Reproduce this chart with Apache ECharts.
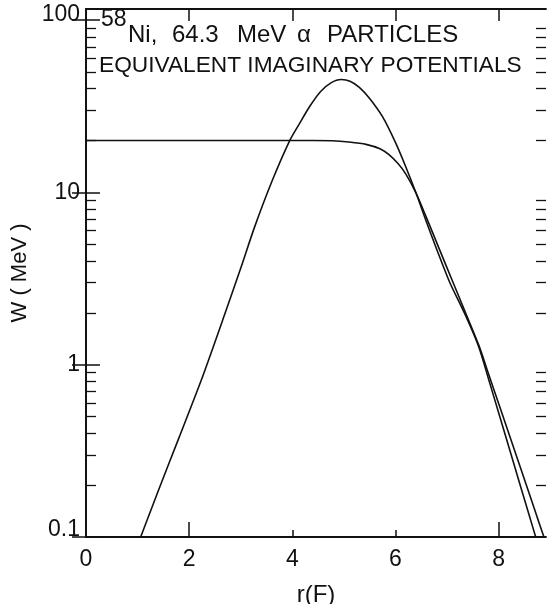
<!DOCTYPE html>
<html>
<head>
<meta charset="utf-8">
<script src="https://cdn.jsdelivr.net/npm/echarts@6/dist/echarts.min.js"></script>
<style>
html,body{margin:0;padding:0;background:#fff;}
#chart{width:547px;height:604px;}
</style>
</head>
<body>
<div id="chart"></div>
<script>
// ---- data ----
// Curve A: flat-bottomed (volume) imaginary potential
const rA = [0, 1, 2, 3, 4, 4.4, 4.78, 5.1, 5.43, 5.7, 5.88, 6.05, 6.2, 6.4, 6.6, 6.85, 7.1, 7.36, 7.62, 7.81, 8.0, 8.28, 8.56, 8.75, 8.88];
const wA = [20, 20, 20, 20, 20, 20, 19.95, 19.6, 19.0, 17.9, 16.5, 14.7, 12.8, 9.91, 7.16, 4.70, 3.09, 2.0, 1.29, 0.877, 0.597, 0.339, 0.192, 0.130, 0.1];
// Curve B: surface-peaked imaginary potential
const rB = [1.06, 1.43, 1.8, 2.24, 2.7, 3.0, 3.27, 3.6, 3.95, 4.14, 4.34, 4.55, 4.75, 4.95, 5.12, 5.3, 5.5, 5.75, 6.0, 6.2, 6.4, 6.6, 6.8, 7.05, 7.36, 7.62, 7.81, 8.0, 8.2, 8.43, 8.59, 8.72];
const wB = [0.1, 0.195, 0.375, 0.82, 2.00, 3.63, 6.31, 11.5, 20.0, 25.1, 31.6, 38.5, 43.2, 45.2, 44.2, 40.7, 35.1, 27.5, 19.5, 14.1, 9.91, 6.76, 4.68, 3.02, 1.93, 1.26, 0.818, 0.528, 0.333, 0.195, 0.135, 0.1];
// Axis ticks
const xTickLabels = [0, 2, 4, 6, 8];
const yMajor = [0.1, 1, 10, 100];
const yMinor = [0.2, 0.3, 0.4, 0.5, 0.6, 0.7, 0.8, 0.9, 2, 3, 4, 5, 6, 7, 8, 9, 20, 30, 40, 50, 60, 70, 80, 90];
const titleSup = '58';
const titleWords1 = ['Ni,', '64.3', 'MeV', 'α', 'PARTICLES'];
const titleLine2 = 'EQUIVALENT IMAGINARY POTENTIALS';
const xName = 'r(F)';
const yName = 'W ( MeV )';

const INK = '#111';
const FONT = 'Liberation Sans';

function zip(xs, ys){ return xs.map((x,i)=>[x, ys[i]]); }

const chart = echarts.init(document.getElementById('chart'), null, {renderer:'canvas'});
const yBase = {type:'log', logBase:10, min:0.1, max:116, gridIndex:0, splitLine:{show:false}};
const xBase = {type:'value', min:0, max:8.92, gridIndex:0, splitLine:{show:false}};

const word1X = [128, 172, 237, 297, 327];
const titleGraphics = [
  {type:'text', left:101, top:8, style:{text:titleSup, fontSize:23, fontFamily:FONT, fill:INK}}
].concat(titleWords1.map((w,i)=>({type:'text', left:word1X[i], top:23,
    style:{text:w, fontSize:24, fontFamily:FONT, fill:INK}})))
 .concat([{type:'text', left:99, top:54, style:{text:titleLine2, fontSize:22.7, fontFamily:FONT, fill:INK}}]);

const option = {
  backgroundColor:'#fff',
  animation:false,
  grid:{left:86, right:1, top:9, bottom:67, containLabel:false, outerBoundsMode:'none'},
  xAxis:[
    Object.assign({}, xBase, {position:'bottom',
      axisLine:{show:true, lineStyle:{color:INK, width:1.8}},
      axisTick:{show:true, inside:true, length:15, customValues:[2,8], lineStyle:{color:INK, width:1.5}},
      axisLabel:{show:true, customValues:xTickLabels, fontSize:23, fontFamily:FONT, color:INK, margin:11},
      name:xName, nameLocation:'middle', nameGap:46, nameTextStyle:{fontSize:24, fontFamily:FONT, color:INK}}),
    Object.assign({}, xBase, {position:'bottom',
      axisLine:{show:false},
      axisTick:{show:true, inside:true, length:7, customValues:[4,6], lineStyle:{color:INK, width:1.5}},
      axisLabel:{show:false}}),
    Object.assign({}, xBase, {position:'top',
      axisLine:{show:true, lineStyle:{color:INK, width:1.8}},
      axisTick:{show:true, inside:true, length:12, customValues:[2,4,6,8], lineStyle:{color:INK, width:1.5}},
      axisLabel:{show:false}})
  ],
  yAxis:[
    Object.assign({}, yBase, {position:'left',
      axisLine:{show:true, lineStyle:{color:INK, width:1.8}},
      axisTick:{show:true, inside:true, length:14, customValues:yMajor, lineStyle:{color:INK, width:1.5}},
      axisLabel:{show:true, customValues:yMajor, fontSize:23, fontFamily:FONT, color:INK, margin:6,
        formatter:function(v){
          if (v < 0.5) return '{lo|0.1}';
          if (v > 50) return '{hi|100}';
          return String(Math.round(v));
        },
        rich:{
          lo:{fontSize:23, fontFamily:FONT, color:INK, padding:[0,0,14,0]},
          hi:{fontSize:23, fontFamily:FONT, color:INK, padding:[0,0,10,0]}
        }},
      name:yName, nameLocation:'middle', nameGap:45, nameRotate:90,
      nameTextStyle:{fontSize:22, fontFamily:FONT, color:INK}}),
    Object.assign({}, yBase, {position:'left',
      axisLine:{show:false},
      axisTick:{show:true, inside:true, length:10, customValues:yMinor, lineStyle:{color:INK, width:1.3}},
      axisLabel:{show:false}}),
    Object.assign({}, yBase, {position:'right',
      axisLine:{show:true, lineStyle:{color:INK, width:1.8}},
      axisTick:{show:true, inside:true, length:14, customValues:yMajor, lineStyle:{color:INK, width:1.5}},
      axisLabel:{show:false}}),
    Object.assign({}, yBase, {position:'right',
      axisLine:{show:false},
      axisTick:{show:true, inside:true, length:10, customValues:yMinor, lineStyle:{color:INK, width:1.3}},
      axisLabel:{show:false}})
  ],
  graphic: titleGraphics,
  series:[
    {type:'line', name:'A', xAxisIndex:0, yAxisIndex:0, data:zip(rA, wA), smooth:0.25, showSymbol:false,
      lineStyle:{color:INK, width:1.6}, clip:true},
    {type:'line', name:'B', xAxisIndex:0, yAxisIndex:0, data:zip(rB, wB), smooth:0.25, showSymbol:false,
      lineStyle:{color:INK, width:1.6}, clip:true}
  ]
};
chart.setOption(option);
</script>
</body>
</html>
